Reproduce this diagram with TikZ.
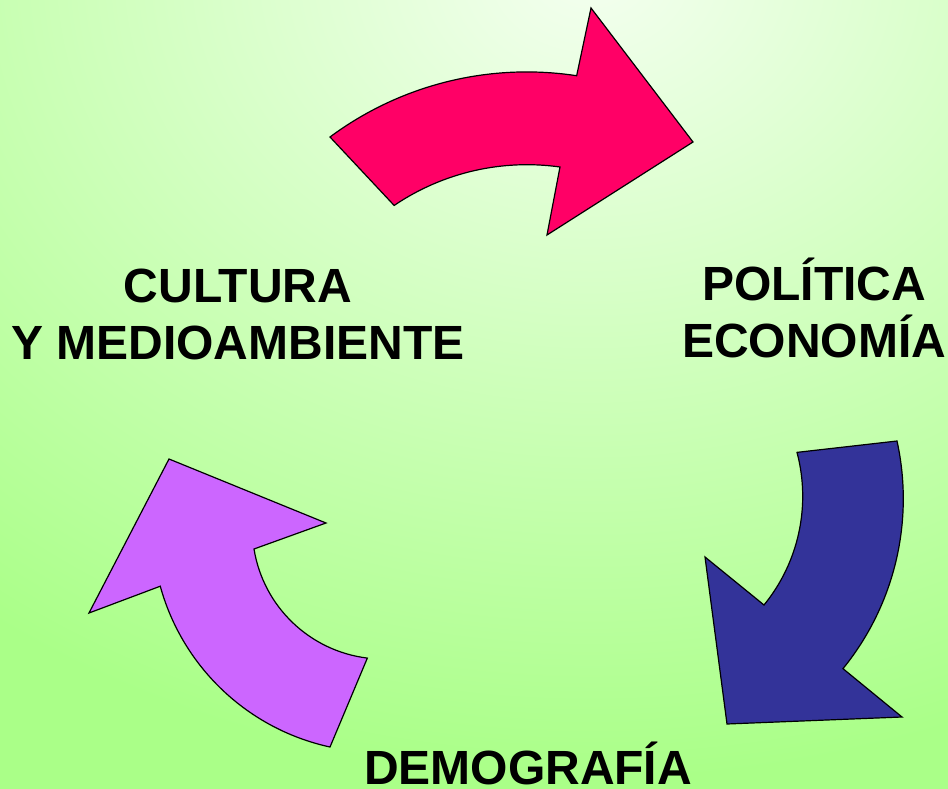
\documentclass[tikz,border=0pt]{standalone}
\usepackage{fontspec}
\setmainfont{Liberation Sans}
\definecolor{fondoclaro}{HTML}{F4FFF0}
\definecolor{fondoverde}{HTML}{AAFF88}
\definecolor{rojo}{HTML}{FF0066}
\definecolor{azul}{HTML}{333399}
\definecolor{lila}{HTML}{CC66FF}
\begin{document}
\begin{tikzpicture}[x=1pt,y=-1pt,
	flecha/.style={draw=black,line width=1.2pt,line join=miter},
	etiqueta/.style={inner sep=0pt,align=center,font=\fontsize{48}{57}\selectfont\bfseries}]
\useasboundingbox (0,0) rectangle (948,789);
% fondo
\fill [fondoverde] (0,0) rectangle (948,789);
\begin{scope}
\clip (0,0) rectangle (948,789);
\shade [inner color=fondoclaro,outer color=fondoverde] (590,-30) ellipse [x radius=1000,y radius=810];
\end{scope}
% flechas
\draw [flecha,fill=rojo] (330,137) arc [start angle=-126.6,end angle=-81.3,radius=330]
	-- (591,8) -- (693,142) -- (547,235) -- (560,167)
	arc [start angle=-82,end angle=-124.1,radius=237] -- cycle;
\draw [flecha,fill=azul] (897,441) arc [start angle=-12.4,end angle=39.1,radius=269.3]
	-- (902,717) -- (727,724) -- (705,557) -- (764,605)
	arc [start angle=39.2,end angle=-14.8,radius=172] -- cycle;
\draw [flecha,fill=lila] (330,747) arc [start angle=102.3,end angle=164.6,radius=226]
	-- (89,613) -- (169,459) -- (326,523) -- (254,549)
	arc [start angle=170.8,end angle=97,radius=131] -- cycle;
% textos
\node (cultura) [etiqueta] at (238,314) {CULTURA\\Y MEDIOAMBIENTE};
\node (politica) [etiqueta] at (814,308) {POLÍTICA\\ECONOMÍA};
\node (demografia) [etiqueta,anchor=base] at (528,784) {DEMOGRAFÍA};
\end{tikzpicture}
\end{document}
